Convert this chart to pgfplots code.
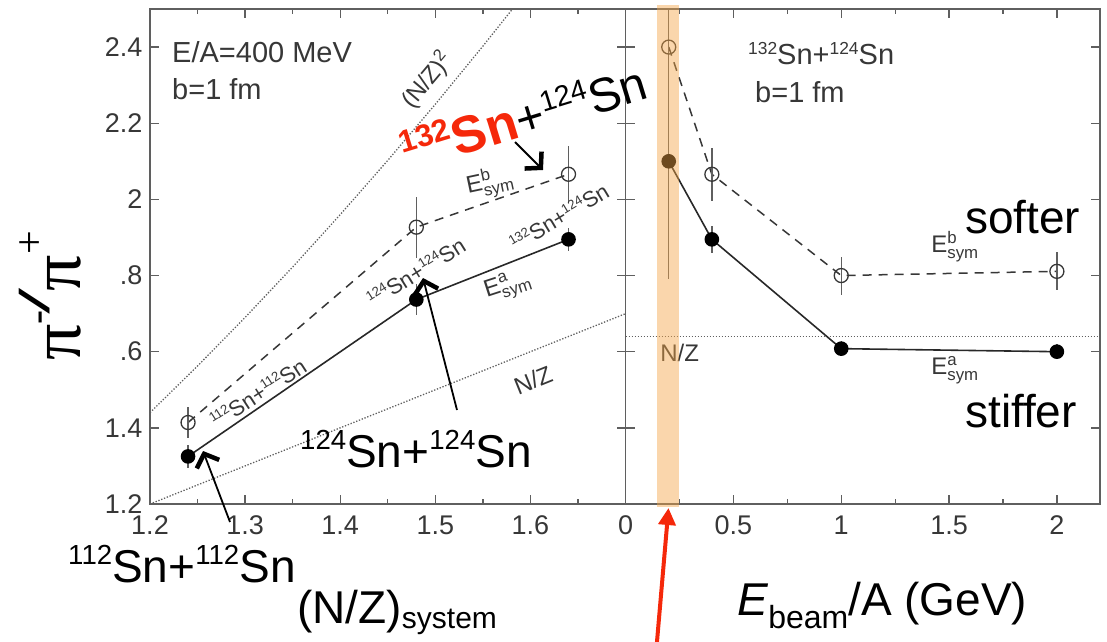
\documentclass[border=0pt]{standalone}
\usepackage{pgfplots}
\pgfplotsset{compat=1.18}
\usepackage{pgfplotstable}
\usepackage{graphicx}
\usepackage{fontspec}
\setmainfont{Liberation Sans}
\newfontfamily\seriffont{Liberation Serif}
\usetikzlibrary{arrows.meta}

\definecolor{axisgray}{RGB}{95,95,95}
\definecolor{inkgray}{RGB}{40,40,40}
\definecolor{txtgray}{RGB}{55,55,55}
\definecolor{hotred}{RGB}{245,40,10}
\definecolor{bandorange}{RGB}{245,165,70}

\newcommand{\fs}[1]{\fontsize{#1}{#1}\selectfont}
\makeatletter
\newcommand{\iso}[1]{\raisebox{0.37em}{\fontsize{\fpeval{0.6*\f@size}}{0}\selectfont#1}}
\makeatother
\newcommand{\Esym}[1]{$\mathrm{E}^{\mathrm{#1}}_{\mathrm{sym}}$}

% pi-/pi+ ratio at E/A = 400 MeV, b = 1 fm, versus (N/Z) of the system
\pgfplotstableread{
x     y      e
1.24  1.325  0.030
1.48  1.737  0.040
1.64  1.895  0.030
}\stiffNZ
\pgfplotstableread{
x     y      e
1.24  1.414  0.040
1.48  1.927  0.080
1.64  2.066  0.075
}\softNZ
% 132Sn+124Sn, b = 1 fm, versus beam energy
\pgfplotstableread{
x    y      e
0.2  2.100  0.310
0.4  1.895  0.035
1.0  1.608  0.020
2.0  1.600  0.020
}\stiffE
\pgfplotstableread{
x    y      e
0.2  2.400  0.100
0.4  2.066  0.070
1.0  1.800  0.050
2.0  1.811  0.050
}\softE

\pgfplotsset{
  frame/.style={
    scale only axis, anchor=south west, height=495pt,
    ymin=1.2, ymax=2.5,
  },
  panel/.style={
    frame,
    axis line style={axisgray, line width=1.5pt},
    every tick/.style={axisgray, line width=1.3pt},
    tick align=inside,
    major tick length=9pt, minor tick length=5pt,
    ytick={1.2,1.4,1.6,1.8,2.0,2.2,2.4},
    ticklabel style={font=\fs{27}, text=txtgray},
    xticklabel style={yshift=-8pt},
    yticklabel style={xshift=-4pt},
    /pgf/number format/assume math mode=true,
  },
  stiff/.style={inkgray, line width=1.6pt, mark=*, mark size=6.5pt,
    mark options={solid, fill=black, draw=black},
    error bars/y dir=both, error bars/y explicit, error bars/error mark=none,
    error bars/error bar style={axisgray, line width=1.3pt, solid}},
  soft/.style={txtgray, line width=1.5pt, dash pattern=on 9pt off 7pt,
    mark=o, mark size=7pt, mark options={solid, draw=txtgray, line width=1.3pt},
    error bars/y dir=both, error bars/y explicit, error bars/error mark=none,
    error bars/error bar style={axisgray, line width=1.3pt, solid}},
  ref line/.style={axisgray, line width=1.3pt, dash pattern=on 1.3pt off 1.7pt, no marks},
}

\begin{document}
\begin{tikzpicture}
% left panel: ratio versus isospin asymmetry of the system
\begin{axis}[panel, at={(150pt,137pt)}, width=475.6pt,
  xmin=1.2, xmax=1.7,
  xtick={1.2,1.3,1.4,1.5,1.6}, xticklabels={1.2,1.3,1.4,1.5,1.6},
  minor xtick={1.25,1.35,1.45,1.55,1.65},
  yticklabels={1.2,1.4,.6,.8,2,2.2,2.4},
]
\addplot[ref line] coordinates {(1.2,1.44)(1.25,1.5625)(1.3,1.69)(1.35,1.8225)(1.4,1.96)(1.45,2.1025)(1.5,2.25)(1.55,2.4025)(1.5811,2.5)};
\addplot[ref line] coordinates {(1.2,1.2)(1.7,1.7)};
\addplot[soft] table[x=x, y=y, y error=e] {\softNZ};
\addplot[stiff] table[x=x, y=y, y error=e] {\stiffNZ};
\end{axis}

% right panel: ratio versus beam energy
\begin{axis}[panel, at={(625.6pt,137pt)}, width=474.4pt,
  xmin=0, xmax=2.2,
  xtick={0,0.5,1,1.5,2}, xticklabels={0,0.5,1,1.5,2},
  minor xtick={0.25,0.75,1.25,1.75},
  yticklabels={},
]
\addplot[ref line] coordinates {(0,1.64)(2.2,1.64)};
\addplot[soft] table[x=x, y=y, y error=e] {\softE};
\addplot[stiff] table[x=x, y=y, y error=e] {\stiffE};
\node[anchor=base west, font=\fs{24}, text=txtgray, inner sep=0pt] at (axis cs:0.16,1.574) {N/Z};
\end{axis}

% highlighted beam energy, laid over the right panel
\begin{axis}[frame, at={(625.6pt,137pt)}, width=474.4pt,
  xmin=0, xmax=2.2, hide axis, clip=false]
\addplot[draw=none, fill=bandorange, fill opacity=0.45] coordinates {(0.144,1.192)(0.249,1.192)(0.249,2.511)(0.144,2.511)};
\end{axis}

\begin{scope}[shift={(0pt,641pt)}, x=1pt, y=-1pt]
  % axis titles
  \node[rotate=90, anchor=base, inner sep=0pt, font=\seriffont\fs{72}] at (80,296)
    {π\raisebox{30pt}{\fs{42}-}\kern-3pt\raisebox{31pt}{\scalebox{1.9}[1]{\fs{46}\bfseries/}}\kern-2pt π\raisebox{37pt}{\fs{42}+}};
  \node[anchor=base west, font=\fs{46}, inner sep=0pt] at (297,623) {(N/Z)\raisebox{-5pt}{\fs{30}system}};
  \node[anchor=base west, font=\fs{46}, inner sep=0pt] at (737,615) {\textit{E}\raisebox{-13pt}{\fs{32}beam}/A (GeV)};

  % panel headers
  \node[anchor=base west, font=\fs{29}, text=txtgray, inner sep=0pt] at (172,63) {E/A=400 MeV};
  \node[anchor=base west, font=\fs{29}, text=txtgray, inner sep=0pt] at (172,100) {b=1 fm};
  \node[anchor=base west, font=\fs{29}, text=txtgray, inner sep=0pt] at (748,65) {\iso{132}Sn+\iso{124}Sn};
  \node[anchor=base west, font=\fs{29}, text=txtgray, inner sep=0pt] at (755,103) {b=1 fm};

  % curve labels
  \node[rotate=50, font=\fs{24}, text=txtgray] at (427,80) {(N/Z)\textsuperscript{2}};
  \node[rotate=22, font=\fs{24}, text=txtgray] at (533,380) {N/Z};
  \node[rotate=12, font=\fs{24}, text=txtgray] at (490,183) {\Esym{b}};
  \node[rotate=18, font=\fs{24}, text=txtgray] at (508,286) {\Esym{a}};
  \node[rotate=33, font=\fs{22}, text=txtgray] at (258,393) {\iso{112}Sn+\iso{112}Sn};
  \node[rotate=32, font=\fs{22}, text=txtgray] at (416,272) {\iso{124}Sn+\iso{124}Sn};
  \node[rotate=31, font=\fs{22}, text=txtgray] at (559,217) {\iso{132}Sn+\iso{124}Sn};
  \node[font=\fs{24}, text=txtgray] at (955,247) {\Esym{b}};
  \node[font=\fs{24}, text=txtgray] at (955,370) {\Esym{a}};

  % reaction and stiffness annotations
  \node[anchor=base west, font=\fs{46}, inner sep=0pt] at (965,233) {softer};
  \node[anchor=base west, font=\fs{46}, inner sep=0pt] at (965,427) {stiffer};
  \node[anchor=base west, font=\fs{46}, inner sep=0pt] at (68,582) {\iso{112}Sn+\iso{112}Sn};
  \node[anchor=base west, font=\fs{46}, inner sep=0pt] at (300,467) {\iso{124}Sn+\iso{124}Sn};
  \node[anchor=base west, rotate=17, font=\fs{48}, inner sep=0pt] at (408,172)
    {\textcolor{hotred}{\bfseries\fs{52}\iso{132}Sn}+\iso{124}Sn};

  \draw[black, line width=1.8pt, -{Straight Barb[length=11pt, width=24pt, line width=4.5pt]}] (230,522) -- (203,451);
  \draw[black, line width=1.8pt, -{Straight Barb[length=11pt, width=24pt, line width=4.5pt]}] (457,410) -- (423,278);
  \draw[black, line width=1.8pt, -{Straight Barb[length=11pt, width=24pt, line width=4.5pt]}] (515,142) -- (543,170);
  \draw[hotred, line width=4pt, -{Triangle[length=17pt, width=17pt]}] (656.7,645) -- (668.5,508);
\end{scope}

\pgfresetboundingbox
\path[use as bounding box] (0pt,0pt) rectangle (1107pt,641pt);
\end{tikzpicture}
\end{document}
